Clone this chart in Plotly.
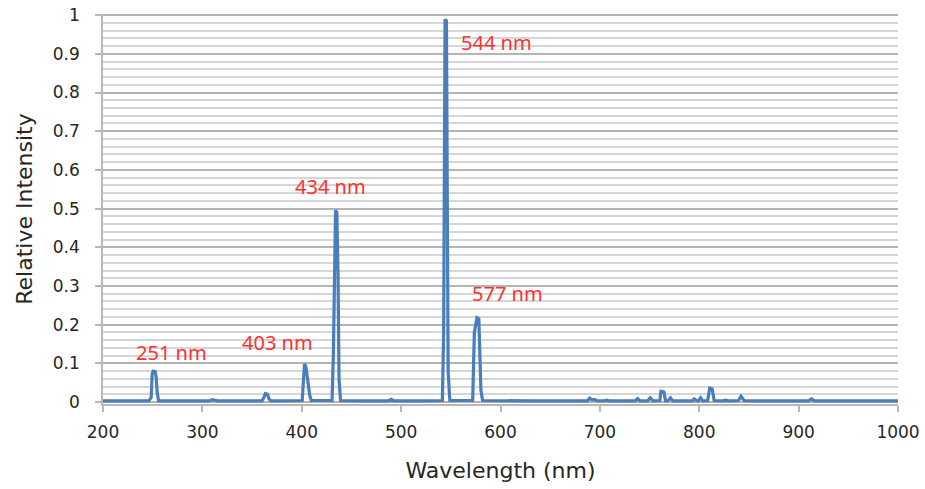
import plotly.graph_objects as go

# Spectrum sample points (wavelength in nm, relative intensity)
wavelength = [
    200, 230, 246, 248.5, 249.5, 250.5, 252.5, 253.5, 254.5, 256, 280,
    307, 310, 312, 315, 340, 360, 362, 363.5, 365.5, 367, 369, 385,
    400.5, 401.8, 402.8, 404.2, 405.5, 406.8, 408, 409.5, 420,
    430.5, 431.8, 433, 434, 435.3, 436.5, 437.5, 439, 460,
    487, 490, 493, 520,
    541.5, 542.8, 543.6, 544.2, 545.6, 546.4, 547.3, 549, 560,
    572, 573.7, 574.5, 575.3, 576.3, 578.2, 579, 580.3, 582, 600,
    630, 687.5, 689.8, 692, 694.8, 696.8, 699, 704.5, 706.5, 709, 725,
    735.5, 738, 740.5, 748, 750.8, 753.5, 760.3, 761.5, 764.5, 766, 768.5, 771, 773.5, 790,
    793, 795, 797, 799, 801.3, 803.5, 808.5, 810.5, 813, 815, 824, 826.5, 829,
    839.5, 842, 845, 850, 852, 854, 880, 910, 913, 916, 950, 1000,
]
intensity = [
    0.003, 0.003, 0.003, 0.012, 0.072, 0.080, 0.079, 0.065, 0.025, 0.003, 0.003,
    0.003, 0.006, 0.005, 0.003, 0.003, 0.003, 0.012, 0.022, 0.020, 0.008, 0.003, 0.003,
    0.004, 0.060, 0.098, 0.092, 0.062, 0.037, 0.018, 0.004, 0.004,
    0.004, 0.120, 0.420, 0.496, 0.490, 0.330, 0.060, 0.004, 0.003,
    0.003, 0.007, 0.003, 0.003,
    0.004, 0.180, 0.700, 0.989, 0.985, 0.500, 0.080, 0.004, 0.003,
    0.004, 0.180, 0.190, 0.210, 0.218, 0.215, 0.120, 0.030, 0.004, 0.003,
    0.003, 0.003, 0.010, 0.006, 0.007, 0.004, 0.003, 0.003, 0.005, 0.003, 0.003,
    0.003, 0.009, 0.003, 0.003, 0.011, 0.003, 0.004, 0.028, 0.026, 0.004, 0.003, 0.011, 0.003, 0.003,
    0.003, 0.008, 0.004, 0.003, 0.011, 0.003, 0.004, 0.036, 0.034, 0.004, 0.003, 0.005, 0.003,
    0.004, 0.015, 0.004, 0.003, 0.004, 0.003, 0.003, 0.003, 0.008, 0.003, 0.003, 0.003,
]

# Peak labels
label_text = ["251 nm", "403 nm", "434 nm", "544 nm", "577 nm"]
label_x = [269, 375.5, 429, 596, 607]
label_y = [0.129, 0.154, 0.556, 0.929, 0.281]

x_ticks = [200, 300, 400, 500, 600, 700, 800, 900, 1000]
y_ticks = [0, 0.1, 0.2, 0.3, 0.4, 0.5, 0.6, 0.7, 0.8, 0.9, 1]
y_tick_text = ["0", "0.1", "0.2", "0.3", "0.4", "0.5", "0.6", "0.7", "0.8", "0.9", "1"]

FONT = "DejaVu Sans"
LABEL_FONT = "Noto Sans"
LINE_BLUE = "#4a7ebb"
TEXT = "#262626"

fig = go.Figure()
fig.add_trace(go.Scatter(
    x=wavelength, y=intensity, mode="lines",
    line=dict(color=LINE_BLUE, width=3.2),
    showlegend=False, hoverinfo="x+y",
))

for t, x, y in zip(label_text, label_x, label_y):
    fig.add_annotation(x=x, y=y, text=t, showarrow=False,
                       font=dict(family=LABEL_FONT, size=20, color="#ff3030"),
                       xanchor="center", yanchor="middle")

fig.update_layout(
    width=925, height=489,
    margin=dict(l=103, r=27, t=14, b=85),
    paper_bgcolor="white", plot_bgcolor="white",
    font=dict(family=FONT, size=17, color=TEXT),
    xaxis=dict(
        range=[200, 1000],
        tickvals=x_ticks,
        automargin=False,
        showgrid=False, zeroline=False,
        showline=True, linecolor="#b8b8b8", linewidth=1.5,
        ticks="outside", ticklen=6, tickcolor="#b8b8b8", tickwidth=1.5,
        ticklabelstandoff=6,
        tickfont=dict(family=FONT, size=17, color=TEXT),
        title=dict(text="Wavelength (nm)", font=dict(family=FONT, size=22, color=TEXT), standoff=21),
    ),
    yaxis=dict(
        range=[-0.005, 1.003],
        tickvals=y_ticks, ticktext=y_tick_text,
        automargin=False,
        showgrid=True, gridcolor="#b4b4b4", gridwidth=1.5,
        minor=dict(dtick=0.02, showgrid=True, gridcolor="#d6d6d6", gridwidth=1.5),
        zeroline=False,
        showline=True, linecolor="#b8b8b8", linewidth=1.5,
        ticks="outside", ticklen=6, tickcolor="#b8b8b8", tickwidth=1.5,
        ticklabelstandoff=12,
        tickfont=dict(family=FONT, size=17, color=TEXT),
        title=dict(text="Relative Intensity", font=dict(family=FONT, size=22, color=TEXT), standoff=14),
    ),
)

fig.write_html("out.html")
